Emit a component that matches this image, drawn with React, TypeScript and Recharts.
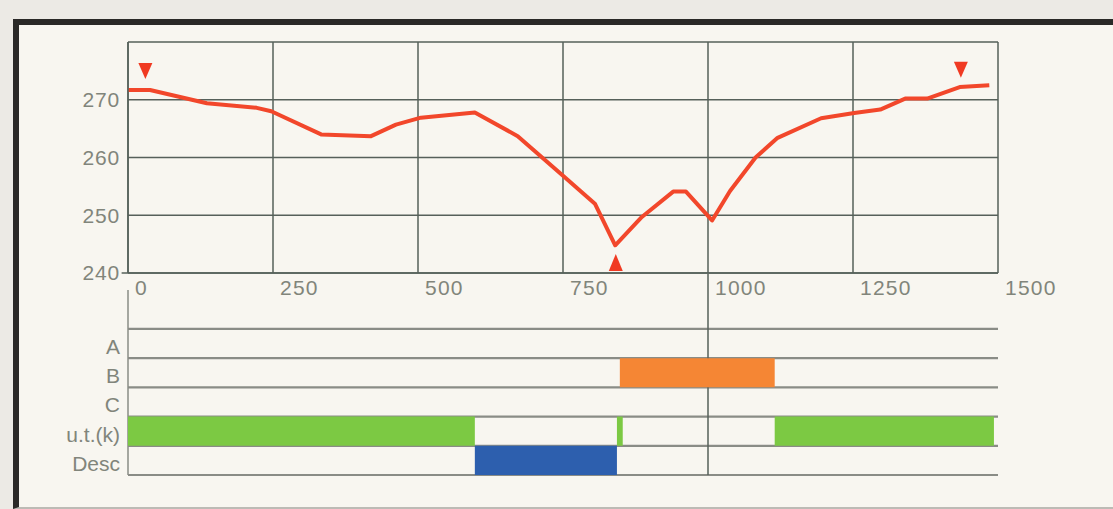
import {
  ComposedChart,
  Line,
  Scatter,
  XAxis,
  YAxis,
  CartesianGrid,
  ReferenceLine,
  ReferenceArea,
} from 'recharts';

// elevation profile
const profileX = [0, 38, 136, 222, 247, 333, 419, 462, 505, 598, 672, 754, 805, 840, 886, 940, 962, 1007, 1038, 1082, 1120, 1195, 1252, 1297, 1340, 1378, 1434, 1485];
const profileY = [271.7, 271.7, 269.4, 268.6, 268.0, 264.0, 263.7, 265.7, 266.9, 267.8, 263.7, 256.5, 252.0, 244.8, 249.7, 254.1, 254.1, 249.1, 254.2, 260.0, 263.4, 266.8, 267.7, 268.3, 270.2, 270.2, 272.2, 272.5];

// triangle markers
const downMarkerX = [30, 1436];
const downMarkerY = [275, 275.2];
const upMarkerX = [841];
const upMarkerY = [241.9];

const xTicks = [0, 250, 500, 750, 1000, 1250, 1500];
const yTicks = [240, 250, 260, 270, 280];

// state rows below the profile, top to bottom
const rows = ['A', 'B', 'C', 'u.t.(k)', 'Desc'];
const rowA: number[][] = [];
const rowB = [[848, 1115]];
const rowC: number[][] = [];
const rowUt = [[0, 598], [843, 853], [1115, 1493]];
const rowDesc = [[598, 843]];

const rowSpans = [rowA, rowB, rowC, rowUt, rowDesc];
const rowColors = ['#f58634', '#f58634', '#f58634', '#7cc943', '#2d5fae'];

const profile = profileX.map((x, i) => ({ x, y: profileY[i] }));
const downMarkers = downMarkerX.map((x, i) => ({ x, y: downMarkerY[i] }));
const upMarkers = upMarkerX.map((x, i) => ({ x, y: upMarkerY[i] }));
const rowCentres = rows.map((_, i) => ({ x: 0, y: i + 0.5 }));

const FONT = 'Liberation Sans, Arial, sans-serif';
const TEXT = '#81857b';
const GRID = '#56605a';
const ROWLINE = '#8a8c86';
const HEADER = 1.88; // free band above row A (in row units)
const FS = 21;

const DownTri = (p: any) => (
  <path d={`M${p.cx - 7},${p.cy - 8} L${p.cx + 7},${p.cy - 8} L${p.cx},${p.cy + 8} Z`} fill="#f03a22" />
);
const UpTri = (p: any) => (
  <path d={`M${p.cx - 7},${p.cy + 9} L${p.cx + 7},${p.cy + 9} L${p.cx},${p.cy - 8} Z`} fill="#f03a22" />
);
const Nothing = () => <g />;

const XTick = ({ x, y, payload }: any) => (
  <text x={x + 7} y={y - 1} dy="0.71em" textAnchor="start" fill={TEXT} fontSize={FS} fontFamily={FONT} letterSpacing={1.2}>
    {payload.value}
  </text>
);

const YTick = ({ x, y, payload }: any) =>
  payload.value === 280 ? null : (
    <text x={x} y={y} dy="0.355em" textAnchor="end" fill={TEXT} fontSize={FS} fontFamily={FONT} letterSpacing={0.8}>
      {payload.value}
    </text>
  );

const RowTick = ({ x, y, payload }: any) => {
  const idx = rows.length - 1 - Math.floor(payload.value);
  return (
    <text x={x} y={y + 3} dy="0.355em" textAnchor="end" fill={TEXT} fontSize={FS} fontFamily={FONT}>
      {rows[idx]}
    </text>
  );
};

export default function App() {
  const n = rows.length;
  return (
    <div style={{ position: 'absolute', left: 0, top: 0, width: 1113, height: 509, overflow: 'hidden', background: '#eceae5' }}>
      <div
        style={{
          position: 'absolute',
          left: 13,
          top: 19,
          width: 1120,
          height: 490,
          boxSizing: 'border-box',
          borderTop: '6px solid #2a2927',
          borderLeft: '6px solid #2a2927',
          borderBottom: '2px solid #bdbbb5',
          background: '#f8f6f0',
        }}
      />
      <div style={{ position: 'absolute', left: 0, top: 0 }}>
        <ComposedChart width={1100} height={310} margin={{ top: 42, right: 102, left: 68, bottom: 7 }}>
          <CartesianGrid stroke={GRID} strokeWidth={1.5} />
          <XAxis
            type="number"
            dataKey="x"
            domain={[0, 1500]}
            ticks={xTicks}
            tick={<XTick />}
            tickLine={false}
            tickSize={6}
            tickMargin={2}
            axisLine={{ stroke: GRID, strokeWidth: 1.5 }}
            height={30}
            allowDataOverflow
          />
          <YAxis
            type="number"
            domain={[240, 280]}
            ticks={yTicks}
            tick={<YTick />}
            tickLine={false}
            tickSize={5}
            tickMargin={3}
            axisLine={{ stroke: GRID, strokeWidth: 1.5 }}
            width={60}
            allowDataOverflow
          />
          <ReferenceLine segment={[{ x: -11, y: 240 }, { x: 0, y: 240 }]} stroke={GRID} strokeWidth={1.5} ifOverflow="visible" />
          <Line
            data={profile}
            dataKey="y"
            type="linear"
            stroke="#f2472b"
            strokeWidth={4}
            strokeLinejoin="round"
            dot={false}
            activeDot={false}
            isAnimationActive={false}
          />
          <Scatter data={downMarkers} dataKey="y" shape={DownTri} isAnimationActive={false} />
          <Scatter data={upMarkers} dataKey="y" shape={UpTri} isAnimationActive={false} />
        </ComposedChart>
      </div>
      <div style={{ position: 'absolute', left: 0, top: 274 }}>
        <ComposedChart width={1100} height={210} margin={{ top: 0, right: 102, left: 68, bottom: 9 }}>
          <XAxis type="number" dataKey="x" domain={[0, 1500]} hide allowDataOverflow />
          <YAxis
            type="number"
            domain={[0, n + HEADER]}
            ticks={rows.map((_, i) => i + 0.5)}
            tick={<RowTick />}
            tickLine={false}
            axisLine={false}
            tickSize={5}
            tickMargin={3}
            width={60}
            allowDataOverflow
          />
          <Scatter data={rowCentres} dataKey="y" shape={Nothing} isAnimationActive={false} />
          {Array.from({ length: n + 1 }, (_, k) => (
            <ReferenceLine key={'r' + k} y={k} stroke={ROWLINE} strokeWidth={2.2} />
          ))}
          <ReferenceLine segment={[{ x: 0, y: 0 }, { x: 0, y: n + HEADER - 0.55 }]} stroke={ROWLINE} strokeWidth={1.5} />
          <ReferenceLine segment={[{ x: 1000, y: 0 }, { x: 1000, y: n + HEADER }]} stroke={GRID} strokeWidth={1.5} />
          {rowSpans.map((spans, r) =>
            spans.map((s, j) => (
              <ReferenceArea
                key={r + '-' + j}
                x1={s[0]}
                x2={s[1]}
                y1={n - 1 - r}
                y2={n - r}
                fill={rowColors[r]}
                fillOpacity={1}
                stroke="none"
                zIndex={1500}
              />
            ))
          )}
        </ComposedChart>
      </div>
    </div>
  );
}
